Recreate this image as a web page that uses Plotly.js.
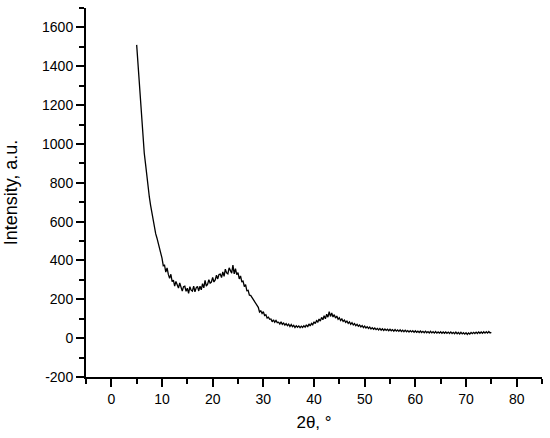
<!DOCTYPE html>
<html>
<head>
<meta charset="utf-8">
<script src="https://cdn.plot.ly/plotly-3.0.1.min.js"></script>
<style>
  html, body { margin: 0; padding: 0; background: #ffffff; }
  #chart { width: 550px; height: 438px; }
</style>
</head>
<body>
<div id="chart"></div>
<script>
// XRD difractograma: 2theta de la 5 la 75 grade, pas 0.25
const THETA_START = 5;
const THETA_STEP = 0.25;

// Intensitati (a.u.), cate 4 pe grad
const intensity = [
  1510, 1418, 1302, 1188,   // 5
  1104, 1028, 952, 897,     // 6
  832, 786, 727, 684,       // 7
  646, 603, 574, 538,       // 8
  516, 492, 458, 439,       // 9
  412, 373, 376, 340,       // 10
  362, 328, 308, 329,       // 11
  291, 299, 268, 292,       // 12
  276, 258, 284, 257,       // 13
  242, 265, 268, 241,       // 14
  257, 231, 265, 247,       // 15
  242, 268, 239, 259,       // 16
  267, 243, 268, 249,       // 17
  281, 259, 298, 268,       // 18
  278, 301, 283, 289,       // 19
  313, 289, 300, 324,       // 20
  305, 328, 330, 312,       // 21
  341, 318, 355, 336,       // 22
  331, 362, 349, 335,       // 23
  376, 331, 358, 327,       // 24
  337, 305, 320, 291,       // 25
  294, 266, 275, 244,       // 26
  246, 221, 220, 209,       // 27
  197, 185, 174, 166,       // 28
  159, 135, 141, 127,       // 29
  136, 117, 121, 104,       // 30
  108, 97, 99, 84,          // 31
  95, 82, 91, 80,           // 32
  82, 73, 84, 71,           // 33
  78, 67, 75, 64,           // 34
  72, 60, 70, 59,           // 35
  66, 55, 64, 56,           // 36
  63, 54, 62, 55,           // 37
  64, 57, 69, 58,           // 38
  73, 63, 76, 69,           // 39
  84, 75, 90, 83,           // 40
  98, 88, 107, 95,          // 41
  115, 100, 123, 108,       // 42
  136, 112, 130, 109,       // 43
  121, 103, 114, 97,        // 44
  105, 91, 99, 86,          // 45
  93, 81, 88, 76,           // 46
  84, 71, 80, 68,           // 47
  75, 64, 71, 61,           // 48
  68, 58, 65, 54,           // 49
  62, 52, 59, 50,           // 50
  57, 47, 54, 46,           // 51
  52, 44, 50, 42,           // 52
  50, 41, 48, 40,           // 53
  47, 40, 46, 38,           // 54
  46, 38, 44, 36,           // 55
  44, 36, 42, 35,           // 56
  43, 34, 41, 33,           // 57
  41, 33, 39, 32,           // 58
  39, 32, 38, 30,           // 59
  38, 30, 36, 29,           // 60
  37, 29, 35, 28,           // 61
  36, 28, 34, 27,           // 62
  35, 27, 33, 26,           // 63
  34, 26, 32, 26,           // 64
  33, 25, 32, 25,           // 65
  32, 25, 31, 24,           // 66
  32, 24, 30, 23,           // 67
  31, 23, 29, 22,           // 68
  30, 22, 28, 21,           // 69
  28, 19, 27, 21,           // 70
  29, 23, 30, 24,           // 71
  31, 24, 32, 25,           // 72
  32, 25, 33, 26,           // 73
  33, 26, 34, 27,           // 74
  30                        // 75
];

const xTickVals = [0, 10, 20, 30, 40, 50, 60, 70, 80];
const yTickVals = [-200, 0, 200, 400, 600, 800, 1000, 1200, 1400, 1600];

const FONT = 'Liberation Sans, Arial, sans-serif';

const trace = {
  y: intensity,
  x0: THETA_START,
  dx: THETA_STEP,
  type: 'scatter',
  mode: 'lines',
  line: { color: '#000000', width: 1.3 },
  hoverinfo: 'skip',
};

const axisCommon = {
  showline: true,
  linecolor: '#000000',
  linewidth: 2,
  mirror: false,
  showgrid: false,
  zeroline: false,
  ticks: 'outside',
  ticklen: 8,
  tickwidth: 2,
  tickcolor: '#000000',
  tickfont: { family: FONT, size: 14, color: '#000000' },
  automargin: false,
};

const layout = {
  width: 550,
  height: 438,
  margin: { l: 86, r: 8, t: 8, b: 61 },
  paper_bgcolor: '#ffffff',
  plot_bgcolor: '#ffffff',
  showlegend: false,
  xaxis: Object.assign({}, axisCommon, {
    range: [-5, 85],
    tickmode: 'array',
    tickvals: xTickVals,
    ticktext: xTickVals.map(String),
    minor: { ticks: 'outside', ticklen: 5, tickwidth: 2, tickcolor: '#000000', dtick: 5, tick0: -5 },
    title: { text: '2θ, °', font: { family: FONT, size: 17, color: '#000000' }, standoff: 10 },
  }),
  yaxis: Object.assign({}, axisCommon, {
    range: [-200, 1700],
    tickmode: 'array',
    tickvals: yTickVals,
    ticktext: yTickVals.map(String),
    minor: { ticks: 'outside', ticklen: 5, tickwidth: 2, tickcolor: '#000000', dtick: 100, tick0: -100 },
    title: { text: 'Intensity, a.u.', font: { family: FONT, size: 18, color: '#000000' }, standoff: 20 },
  }),
};

Plotly.newPlot('chart', [trace], layout, { displayModeBar: false, staticPlot: true });
</script>
</body>
</html>
